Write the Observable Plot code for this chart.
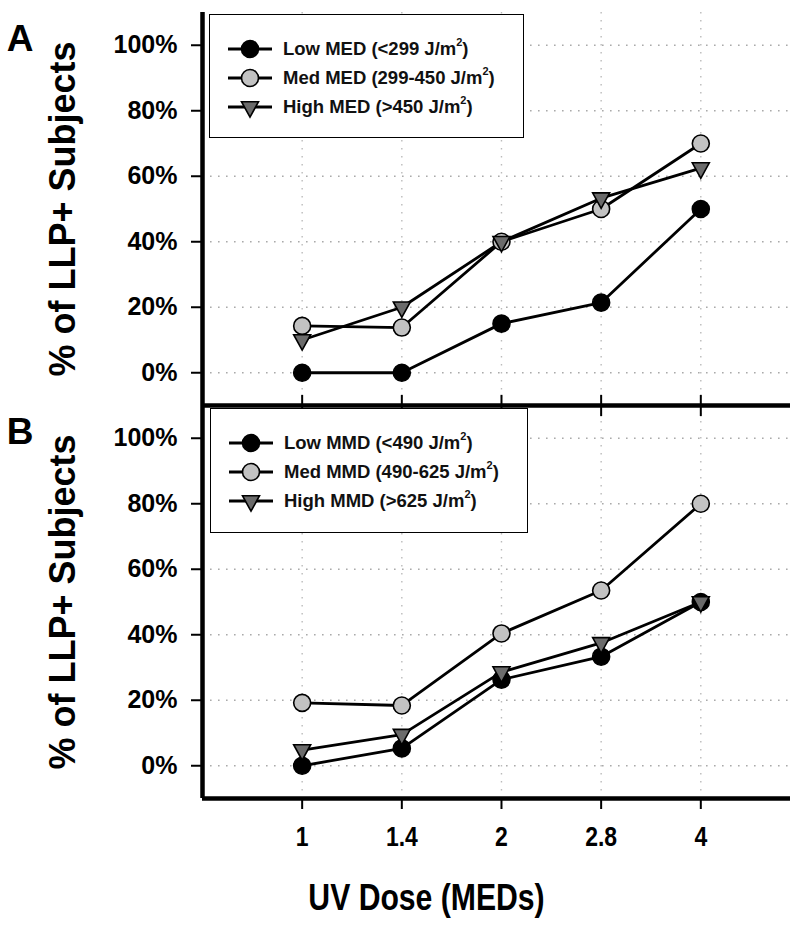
<!DOCTYPE html>
<html><head><meta charset="utf-8">
<script src="https://cdn.jsdelivr.net/npm/d3@7"></script>
<script src="https://cdn.jsdelivr.net/npm/@observablehq/plot@0.6"></script>
<style>
body{margin:0;background:#fff;}
#wrap{position:relative;width:800px;height:929px;overflow:hidden;font-family:"Liberation Sans",Arial,sans-serif;}
.legend{position:absolute;border:1.5px solid #000;background:#fff;box-sizing:border-box;}
.lrow{position:absolute;left:0;height:26px;width:100%;}
.lrow svg{position:absolute;left:17px;top:0;}
.lrow span{position:absolute;left:73px;top:1px;font-weight:bold;font-size:18.5px;line-height:24px;white-space:nowrap;color:#111;}
.lrow sup{font-size:11px;line-height:0;position:relative;top:-2px;}
</style></head><body><div id="wrap"></div>
<script>
// ---- data ----
const doses = ["1", "1.4", "2", "2.8", "4"];
const panels = ["A", "B"];
const groups = ["Low", "Med", "High"];
const seriesA = ["Low MED (<299 J/m2)", "Med MED (299-450 J/m2)", "High MED (>450 J/m2)"];
const seriesB = ["Low MMD (<490 J/m2)", "Med MMD (490-625 J/m2)", "High MMD (>625 J/m2)"];
const lowA  = [0, 0, 15, 21.4, 50];
const medA  = [14.3, 13.8, 40, 50, 70];
const highA = [10, 20, 40, 53.3, 62.5];
const lowB  = [0, 5.3, 26.3, 33.3, 50];
const medB  = [19.2, 18.4, 40.4, 53.5, 80];
const highB = [4.8, 9.5, 28.6, 37.5, 50];
const yTicks = [0, 20, 40, 60, 80, 100];
const yTitle = "% of LLP+ Subjects";
const xTitle = "UV Dose (MEDs)";
const fills = ["#000000", "#c2c2c2", "#6b6b6b"];

// ---- table ----
const valuesByPanel = {A: [lowA, medA, highA], B: [lowB, medB, highB]};
const rows = [];
for (const p of panels) {
  valuesByPanel[p].forEach((vals, gi) => {
    vals.forEach((v, i) => rows.push({panel: p, group: groups[gi], gi, i, value: v}));
  });
}
const xIdx = doses.map((d, i) => i);
const tickRowsA = xIdx.map(i => ({panel: "A", i}));

const triangleDown = {
  draw(ctx, size) {
    const r = Math.sqrt(size / Math.PI);
    const w = r * 1.0, t = r * 0.62, b = r * 1.2;
    ctx.moveTo(-w, -t); ctx.lineTo(w, -t); ctx.lineTo(0, b); ctx.closePath();
  }
};

const bold = "bold";

const chart = Plot.plot({
  width: 800, height: 929,
  marginTop: 12, marginBottom: 131, marginLeft: 202, marginRight: 10,
  style: {fontFamily: "'Liberation Sans',Arial,sans-serif", background: "white", color: "#000", overflow: "visible"},
  x: {type: "linear", domain: [-1, 4.9], axis: null},
  y: {domain: [-10, 110], axis: null},
  fy: {domain: panels, padding: 0, axis: null},
  marks: [
    Plot.gridY(yTicks, {stroke: "#aaa", strokeOpacity: 1, strokeWidth: 1.6, strokeDasharray: "1.6,6.4"}),
    Plot.gridX(xIdx, {stroke: "#bbb", strokeOpacity: 1, strokeWidth: 1.4, strokeDasharray: "1.6,6.4"}),
    Plot.ruleX(tickRowsA, {x: "i", fy: "panel", y1: -6.9, y2: -13.4, strokeWidth: 2}),
    Plot.axisY({ticks: yTicks, tickFormat: d => d + "%", tickSize: 11, tickPadding: 14,
      fontSize: 25, fontWeight: bold, strokeWidth: 2, label: null}),
    Plot.axisX({ticks: xIdx, tickFormat: i => doses[i], tickSize: 11, tickPadding: 17,
      fontSize: 27, fontWeight: bold, strokeWidth: 2, label: null}),
    Plot.ruleX([-1], {strokeWidth: 4.5}),
    Plot.ruleY([-10], {strokeWidth: 4.5}),
    Plot.line(rows, {x: "i", y: "value", z: "group", fy: "panel", stroke: "#000", strokeWidth: 2.8}),
    Plot.dot(rows.filter(d => d.gi < 2), {x: "i", y: "value", fy: "panel", r: 8.5, symbol: "circle",
      fill: d => fills[d.gi], stroke: "#000", strokeWidth: 1.6}),
    Plot.dot(rows.filter(d => d.gi === 2), {x: "i", y: "value", fy: "panel", r: 8.5, symbol: triangleDown,
      fill: d => fills[d.gi], stroke: "#000", strokeWidth: 1.6}),
    Plot.text([yTitle], {frameAnchor: "left", textAnchor: "middle", lineAnchor: "middle", rotate: -90,
      dx: -139, fontSize: 36, fontWeight: bold}),
    Plot.text(panels, {fy: d => d, text: d => d, frameAnchor: "top-left", textAnchor: "middle", lineAnchor: "middle",
      dx: -182.5, dy: 26.5, fontSize: 37, fontWeight: bold}),
    Plot.text([{panel: "B", t: xTitle}], {fy: "panel", text: "t", frameAnchor: "bottom", lineAnchor: "middle",
      dx: -70, dy: 100, fontSize: 37, fontWeight: bold})
  ]
});
const wrap = document.getElementById("wrap");
wrap.appendChild(chart);

// condense x labels & title (reference uses a narrow face)
chart.querySelectorAll("text").forEach(t => {
  const s = t.textContent;
  if (s === xTitle || doses.includes(s)) {
    const L = t.getComputedTextLength();
    t.setAttribute("textLength", (L * (s === xTitle ? 0.815 : 0.85)).toFixed(1));
    t.setAttribute("lengthAdjust", "spacingAndGlyphs");
  }
});

// ---- legends ----
function makeLegend(labels, box) {
  const lg = document.createElement("div");
  lg.className = "legend";
  Object.assign(lg.style, {left: box[0] + "px", top: box[1] + "px", width: box[2] + "px", height: box[3] + "px"});
  labels.forEach((lab, gi) => {
    const row = document.createElement("div");
    row.className = "lrow";
    row.style.top = (21 + gi * 29) + "px";
    const svg = d3.create("svg").attr("width", 48).attr("height", 26);
    svg.append("line").attr("x1", 1).attr("x2", 45).attr("y1", 13).attr("y2", 13).attr("stroke", "#000").attr("stroke-width", 2.8);
    if (gi < 2) {
      svg.append("circle").attr("cx", 23).attr("cy", 13).attr("r", 8.5).attr("fill", fills[gi]).attr("stroke", "#000").attr("stroke-width", 1.6);
    } else {
      svg.append("path").attr("d", "M14.5,7.7L31.5,7.7L23,23.2Z").attr("fill", fills[gi]).attr("stroke", "#000").attr("stroke-width", 1.6);
    }
    row.appendChild(svg.node());
    const span = document.createElement("span");
    const [pre, post] = lab.split("J/m2");
    span.appendChild(document.createTextNode(pre + "J/m"));
    const sup = document.createElement("sup"); sup.textContent = "2";
    span.appendChild(sup);
    span.appendChild(document.createTextNode(post));
    row.appendChild(span);
    lg.appendChild(row);
  });
  wrap.appendChild(lg);
}
makeLegend(seriesA, [209, 14, 315, 124]);
makeLegend(seriesB, [210, 408, 318, 125]);
</script>
</body></html>
